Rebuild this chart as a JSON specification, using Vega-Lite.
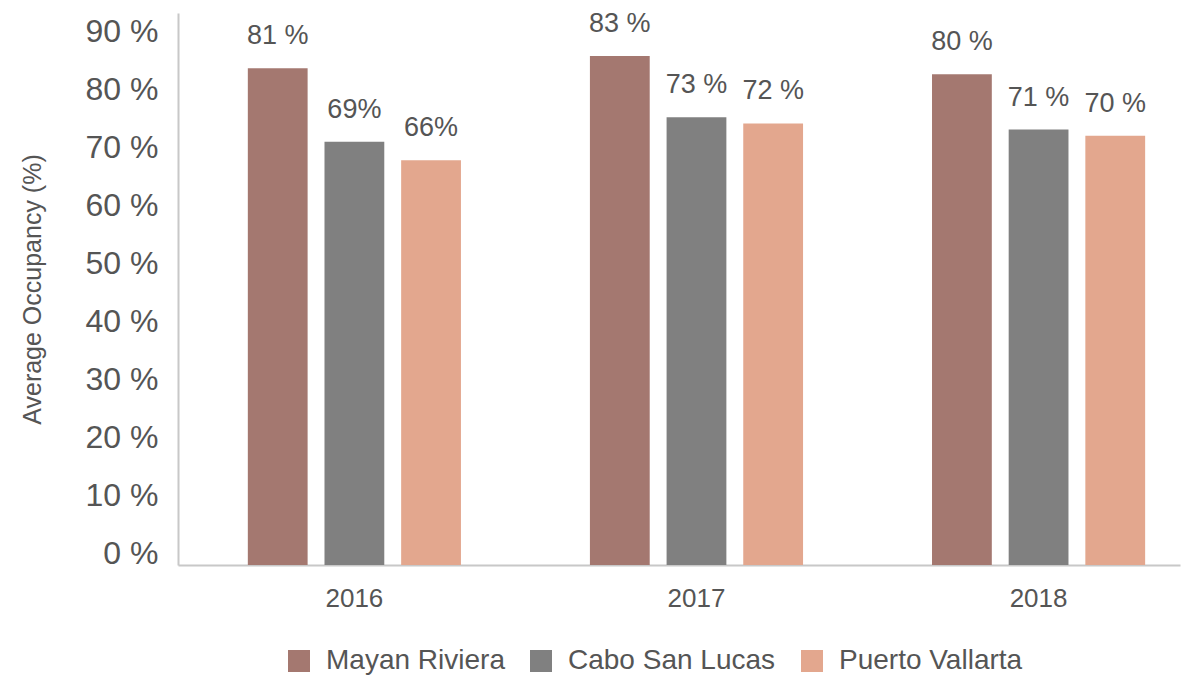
{
  "$schema": "https://vega.github.io/schema/vega-lite/v6.json",
  "width": 1002,
  "height": 552,
  "autosize": "none",
  "padding": {"left": 178, "top": 13, "right": 9, "bottom": 112},
  "background": "white",
  "config": {
    "font": "Liberation Sans",
    "view": {"stroke": null},
    "axis": {"labelColor": "#555555", "titleColor": "#555555", "domainColor": "#c8c8c8", "grid": false, "ticks": false}
  },
  "data": {
    "values": [
      {"year": "2016", "site": "Mayan Riviera", "value": 81, "label": "81 %"},
      {"year": "2016", "site": "Cabo San Lucas", "value": 69, "label": "69%"},
      {"year": "2016", "site": "Puerto Vallarta", "value": 66, "label": "66%"},
      {"year": "2017", "site": "Mayan Riviera", "value": 83, "label": "83 %"},
      {"year": "2017", "site": "Cabo San Lucas", "value": 73, "label": "73 %"},
      {"year": "2017", "site": "Puerto Vallarta", "value": 72, "label": "72 %"},
      {"year": "2018", "site": "Mayan Riviera", "value": 80, "label": "80 %"},
      {"year": "2018", "site": "Cabo San Lucas", "value": 71, "label": "71 %"},
      {"year": "2018", "site": "Puerto Vallarta", "value": 70, "label": "70 %"}
    ]
  },
  "encoding": {
    "x": {
      "field": "year", "type": "nominal",
      "scale": {"paddingInner": 0.377, "paddingOuter": 0.153, "align": 0.667},
      "axis": {"title": null, "labelAngle": 0, "labelFontSize": 26, "labelPadding": 20, "domainWidth": 2}
    },
    "xOffset": {
      "field": "site", "type": "nominal",
      "sort": ["Mayan Riviera", "Cabo San Lucas", "Puerto Vallarta"],
      "scale": {"paddingInner": 0.22}
    },
    "y": {
      "field": "value", "type": "quantitative",
      "scale": {"domain": [0, 90], "nice": false},
      "axis": {
        "title": "Average Occupancy (%)", "titleFontSize": 25, "titleFontWeight": "normal", "titlePadding": 40,
        "labelFontSize": 32, "labelPadding": 20, "values": [0,10,20,30,40,50,60,70,80,90],
        "labelExpr": "datum.value + ' %'", "labelOffset": {"expr": "-12 + datum.value / 3"}, "domainWidth": 2
      }
    }
  },
  "layer": [
    {
      "mark": {"type": "bar"},
      "encoding": {
        "color": {
          "field": "site", "type": "nominal",
          "sort": ["Mayan Riviera", "Cabo San Lucas", "Puerto Vallarta"],
          "scale": {"domain": ["Mayan Riviera", "Cabo San Lucas", "Puerto Vallarta"], "range": ["#a47870", "#808080", "#e3a78e"]},
          "legend": {
            "title": null, "orient": "none", "direction": "horizontal",
            "legendX": 107, "legendY": 634,
            "symbolType": "square", "symbolSize": 484, "symbolStrokeWidth": 0,
            "labelFontSize": 28, "labelColor": "#555555", "labelOffset": 13, "columnPadding": 22, "labelLimit": 400
          }
        }
      }
    },
    {
      "mark": {"type": "text", "baseline": "middle", "dy": -32, "fontSize": 27, "color": "#555555"},
      "encoding": {"text": {"field": "label"}}
    }
  ]
}
